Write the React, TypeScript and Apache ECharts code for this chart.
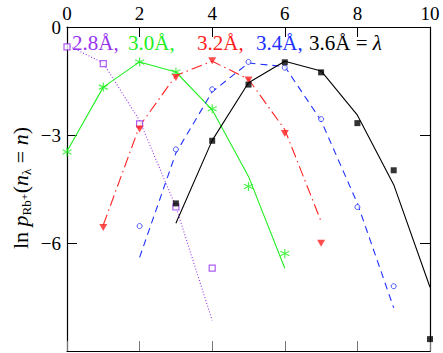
import React, { useEffect, useRef } from "react";
import * as echarts from "echarts";

const xTicks = [0, 2, 4, 6, 8, 10];
const yTicks = [0, -3, -6];

// 2.8 Å
const purpleLineX = [0, 1, 2, 3, 4];
const purpleLineY = [-0.5, -1.0, -2.6, -5.0, -8.15];
const purplePtsX = [0, 1, 2, 3, 4];
const purplePtsY = [-0.55, -1.02, -2.69, -5.0, -6.7];

// 3.0 Å
const greenLineX = [0, 1, 2, 3, 4, 5, 6];
const greenLineY = [-3.45, -1.67, -0.97, -1.25, -2.3, -4.15, -6.7];
const greenPtsX = [0, 1, 2, 3, 4, 5, 6];
const greenPtsY = [-3.47, -1.67, -0.97, -1.25, -2.27, -4.43, -6.29];

// 3.2 Å
const redLineX = [1, 2, 3, 4, 5, 6, 7];
const redLineY = [-5.5, -2.75, -1.35, -0.95, -1.45, -2.85, -5.4];
const redPtsX = [1, 2, 3, 4, 5, 6, 7];
const redPtsY = [-5.57, -2.83, -1.4, -0.94, -1.47, -2.96, -6.01];

// 3.4 Å
const blueLineX = [2, 3, 4, 5, 6, 7, 8, 9];
const blueLineY = [-6.4, -3.5, -1.8, -1.0, -1.1, -2.6, -4.9, -7.8];
const bluePtsX = [2, 3, 4, 5, 6, 7, 8, 9];
const bluePtsY = [-5.53, -3.4, -1.73, -0.97, -1.13, -2.56, -5.0, -7.2];

// 3.6 Å
const blackLineX = [3, 4, 5, 6, 7, 8, 9, 10];
const blackLineY = [-5.45, -3.15, -1.55, -0.95, -1.22, -2.45, -4.38, -7.23];
const blackPtsX = [3, 4, 5, 6, 7, 8, 9, 10];
const blackPtsY = [-4.9, -3.16, -1.6, -0.98, -1.26, -2.67, -3.98, -8.67];

const legendLabels = ["2.8Å,", "3.0Å,", "3.2Å,", "3.4Å,", "3.6Å = "];

const PURPLE = "#9933ee";
const GREEN = "#22ee22";
const RED = "#ff2020";
const BLUE = "#2030ff";
const BLACK = "#000000";

const FONT = "'Liberation Serif', 'DejaVu Serif', serif";

const zip = (xs: number[], ys: number[]) => xs.map((x, i) => [x, ys[i]]);

const asterisk =
  "path://M0,-5L0,5M-4.33,-2.5L4.33,2.5M-4.33,2.5L4.33,-2.5";

export default function App() {
  const ref = useRef<HTMLDivElement>(null);
  useEffect(() => {
    if (!ref.current) return;
    const chart = echarts.init(ref.current, undefined, { renderer: "svg" });
    const axisLine = { show: true, onZero: false, lineStyle: { color: "#000", width: 1.2 } };
    const line = (name: string, xs: number[], ys: number[], color: string, type: any) => ({
      name,
      type: "line",
      data: zip(xs, ys),
      symbol: "none",
      lineStyle: { color, width: 1.1, type },
      z: 2,
    });
    const pts = (name: string, xs: number[], ys: number[], extra: any) => ({
      name,
      type: "scatter",
      data: zip(xs, ys),
      z: 3,
      ...extra,
    });
    const legendText = (i: number, left: number, color: string) => ({
      type: "text",
      left,
      top: 32,
      style: { text: legendLabels[i], fill: color, fontFamily: FONT, fontSize: 21 },
    });
    chart.setOption({
      animation: false,
      backgroundColor: "#fff",
      grid: { left: 67, right: 13, top: 27, bottom: 2 },
      xAxis: [
        {
          type: "value",
          min: 0,
          max: 10,
          interval: 2,
          position: "top",
          axisLine,
          axisTick: { show: true, inside: true, length: 10, lineStyle: { color: "#000" } },
          axisLabel: {
            show: true,
            color: "#000",
            fontFamily: FONT,
            fontSize: 19,
            margin: 4,
            formatter: (v: number) => (xTicks.includes(v) ? String(v) : ""),
          },
          splitLine: { show: false },
        },
        {
          type: "value",
          min: 0,
          max: 10,
          interval: 2,
          position: "bottom",
          axisLine,
          axisTick: { show: true, inside: true, length: 10, lineStyle: { color: "#777" } },
          axisLabel: { show: false },
          splitLine: { show: false },
        },
      ],
      yAxis: [
        {
          type: "value",
          min: -9,
          max: 0,
          interval: 3,
          position: "left",
          axisLine,
          axisTick: { show: true, inside: true, length: 10, lineStyle: { color: "#000" } },
          axisLabel: {
            show: true,
            color: "#000",
            fontFamily: FONT,
            fontSize: 19,
            margin: 6,
            formatter: (v: number) =>
              yTicks.includes(v) ? (v < 0 ? "\u2212" + Math.abs(v) : String(v)) : "",
          },
          splitLine: { show: false },
        },
        {
          type: "value",
          min: -9,
          max: 0,
          interval: 3,
          position: "right",
          axisLine,
          axisTick: { show: true, inside: true, length: 10, lineStyle: { color: "#000" } },
          axisLabel: { show: false },
          splitLine: { show: false },
        },
      ],
      series: [
        line("p28", purpleLineX, purpleLineY, PURPLE, [1, 2]),
        line("g30", greenLineX, greenLineY, GREEN, "solid"),
        line("r32", redLineX, redLineY, RED, [11, 4, 1.5, 4]),
        line("b34", blueLineX, blueLineY, BLUE, [7, 5]),
        line("k36", blackLineX, blackLineY, BLACK, "solid"),
        pts("p28pts", purplePtsX, purplePtsY, {
          symbol: "rect",
          symbolSize: 6,
          itemStyle: { color: "#fff", borderColor: PURPLE, borderWidth: 1.2 },
        }),
        pts("g30pts", greenPtsX, greenPtsY, {
          symbol: asterisk,
          symbolSize: 9,
          itemStyle: { color: "none", borderColor: GREEN, borderWidth: 1.2 },
        }),
        pts("r32pts", redPtsX, redPtsY, {
          symbol: "triangle",
          symbolRotate: 180,
          symbolSize: [8, 7],
          itemStyle: { color: RED },
        }),
        pts("b34pts", bluePtsX, bluePtsY, {
          symbol: "circle",
          symbolSize: 5,
          itemStyle: { color: "#fff", borderColor: BLUE, borderWidth: 1 },
        }),
        pts("k36pts", blackPtsX, blackPtsY, {
          symbol: "rect",
          symbolSize: 6,
          itemStyle: { color: BLACK },
        }),
      ],
      graphic: [
        legendText(0, 72, PURPLE),
        legendText(1, 128, GREEN),
        legendText(2, 197, RED),
        legendText(3, 256, BLUE),
        {
          type: "text",
          left: 309,
          top: 32,
          style: {
            text: "{m|" + legendLabels[4] + "}{i|λ}",
            rich: {
              m: { fontFamily: FONT, fontSize: 21, fill: BLACK },
              i: { fontStyle: "italic", fontFamily: FONT, fontSize: 21, fill: BLACK },
            },
          },
        },
        {
          type: "text",
          x: 20,
          y: 188,
          rotation: Math.PI / 2,
          style: {
            text: "{m|ln }{i|p}{s|Rb⁺}{m|(}{i|n}{s|λ}{m| = }{i|n}{m|)}",
            align: "center",
            verticalAlign: "middle",
            rich: {
              m: { fontFamily: FONT, fontSize: 22, lineHeight: 26, fill: "#000", verticalAlign: "middle" },
              i: { fontFamily: FONT, fontStyle: "italic", fontSize: 22, lineHeight: 26, fill: "#000", verticalAlign: "middle" },
              s: { fontFamily: FONT, fontSize: 13, lineHeight: 26, fill: "#000", verticalAlign: "bottom" },
            },
          },
        },
      ],
    });
    return () => chart.dispose();
  }, []);
  return (
    <div
      ref={ref}
      style={{ position: "absolute", left: 0, top: 0, width: 443, height: 353 }}
    />
  );
}
